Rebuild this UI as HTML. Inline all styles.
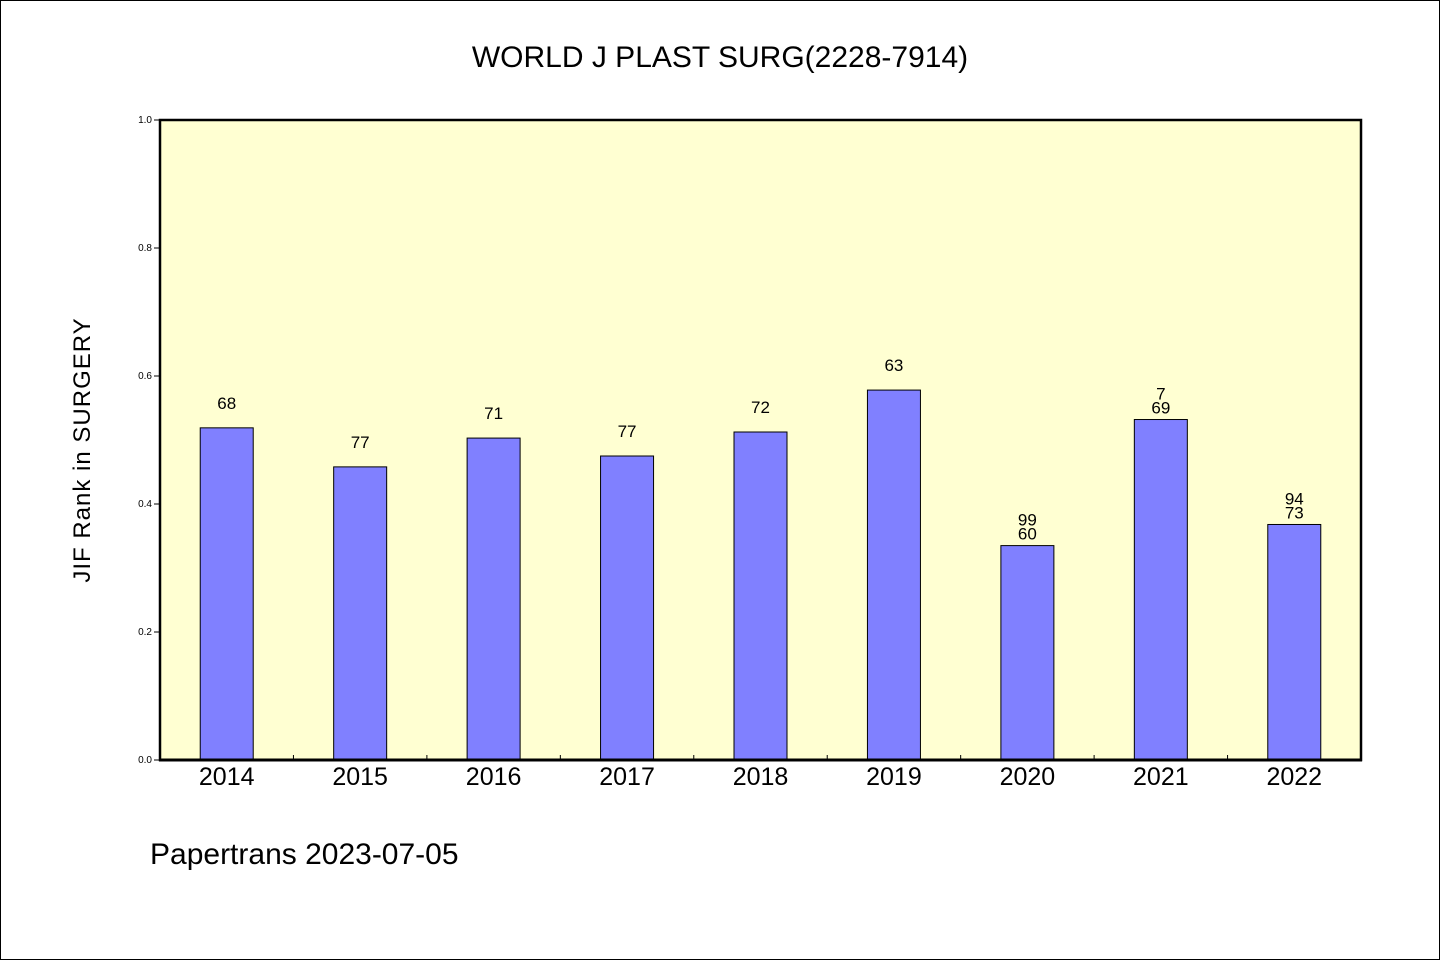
<!DOCTYPE html>
<html><head><meta charset="utf-8"><style>
body{margin:0;background:#fff}
svg{display:block;font-family:"WenQuanYi Zen Hei","Liberation Sans",sans-serif}
</style></head><body>
<svg width="1440" height="960">
<rect x="0.5" y="0.5" width="1439" height="959" fill="#fff" stroke="#000"/>
<text x="720" y="67" font-size="30" text-anchor="middle">WORLD J PLAST SURG(2228-7914)</text>
<rect x="160" y="120" width="1201" height="640" fill="#ffffd2"/>
<g id="yaxis"></g>
<g id="bars"></g>
<g id="xaxis"></g>
<rect x="160" y="120" width="1201" height="640" fill="none" stroke="#000" stroke-width="2.5"/>
<line x1="159" y1="760" x2="1362" y2="760" stroke="#000" stroke-width="3"/>
<text transform="translate(90,450) rotate(-90)" font-size="24" text-anchor="middle" letter-spacing="1">JIF Rank in SURGERY</text>
<text x="150" y="864" font-size="30">Papertrans 2023-07-05</text>
</svg>
<script>
const categories=["2014","2015","2016","2017","2018","2019","2020","2021","2022"];
const values=[0.519,0.458,0.503,0.475,0.5125,0.578,0.335,0.532,0.368];
const labelsTop=["","","","","","","99","7","94"];
const labelsBottom=["68","77","71","77","72","63","60","69","73"];
const yTicks=[0,0.2,0.4,0.6,0.8,1.0];
const yTickLabels=["0.0","0.2","0.4","0.6","0.8","1.0"];
const NS="http://www.w3.org/2000/svg";
const X0=160,W=1201,Y0=760,H=640;
const step=W/categories.length;
const y=v=>Y0-v*H;
const xc=i=>X0+step*(i+0.5);
function mk(t,a,p){const e=document.createElementNS(NS,t);for(const k in a)e.setAttribute(k,a[k]);p.appendChild(e);return e;}
const ya=document.getElementById('yaxis');
yTicks.forEach((v,i)=>{
 const l=mk('line',{x1:X0-6,x2:X0,y1:y(v),y2:y(v),stroke:'#000'},ya);
 
 
 const t=mk('text',{x:X0-8,y:y(v)+3,'font-size':10,'text-anchor':'end'},ya);
 t.textContent=yTickLabels[i];
 
 
});
const bg=document.getElementById('bars');
const xa=document.getElementById('xaxis');
categories.forEach((c,i)=>{
 const bw=53;
 const r=mk('rect',{x:xc(i)-bw/2,y:y(values[i]),width:bw,height:values[i]*H,fill:'#8080ff',stroke:'#000','stroke-width':1},bg);
 
 
 const t1=mk('text',{x:xc(i),y:y(values[i])-19,'font-size':17,'text-anchor':'middle'},bg);
 t1.textContent=labelsBottom[i];
 
 
 if(labelsTop[i]){
  t1.setAttribute('y',y(values[i])-6);
  const t2=mk('text',{x:xc(i),y:y(values[i])-20,'font-size':17,'text-anchor':'middle'},bg);
  t2.textContent=labelsTop[i];
  
  
 }
 const xt=mk('text',{x:xc(i),y:785,'font-size':25,'text-anchor':'middle'},xa);
 xt.textContent=c;
 
 
 if(i>0){
  const tk=mk('line',{x1:X0+step*i,x2:X0+step*i,y1:Y0-5,y2:Y0,stroke:'#000'},xa);
  
  
 }
});
</script>
</body></html>
